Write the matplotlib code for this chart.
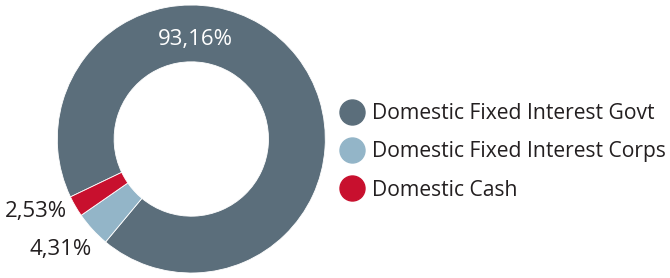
import matplotlib
matplotlib.use("Agg")
import matplotlib.pyplot as plt
from matplotlib.lines import Line2D

categories = ["Domestic Fixed Interest Govt", "Domestic Fixed Interest Corps", "Domestic Cash"]
values = [93.16, 4.31, 2.53]
colors = ["#5b6e7b", "#93b5c8", "#c8102e"]

plt.rcParams['font.family'] = ['Open Sans', 'DejaVu Sans']

W, H = 670, 278
fig = plt.figure(figsize=(W / 100, H / 100), dpi=100)
cx, cy, r = 191.3, 139, 134
ax = fig.add_axes([(cx - r) / W, (H - cy - r) / H, 2 * r / W, 2 * r / H])

ax.pie(values, colors=colors, startangle=205.6, counterclock=False, radius=1,
       wedgeprops=dict(width=0.424, edgecolor='white', linewidth=0.6))
ax.set_xlim(-1, 1)
ax.set_ylim(-1, 1)
ax.set_aspect('auto')
ax.axis('off')

def fmt(v):
    return f"{v:.2f}".replace('.', ',') + "%"

def px(x, y):
    return (x - cx) / r, (cy - y) / r

tx, ty = px(195, 39)
ax.text(tx, ty, fmt(values[0]), color='white', fontsize=16, ha='center', va='center')
tx, ty = px(67, 212)
ax.text(tx, ty, fmt(values[2]), color='#231f20', fontsize=16, ha='right', va='center')
tx, ty = px(92, 250)
ax.text(tx, ty, fmt(values[1]), color='#231f20', fontsize=16, ha='right', va='center')

handles = [Line2D([], [], marker='o', linestyle='none', markersize=18,
                  markerfacecolor=c, markeredgecolor=c) for c in colors]
leg = fig.legend(handles, categories, loc='center left', bbox_to_anchor=(341 / W, 1 - 152 / H),
                 frameon=False, fontsize=15.2, handlelength=1.0, handletextpad=0.45,
                 labelspacing=0.82, borderpad=0, borderaxespad=0)
for t in leg.get_texts():
    t.set_color('#231f20')

fig.savefig("out.png", dpi=100)
